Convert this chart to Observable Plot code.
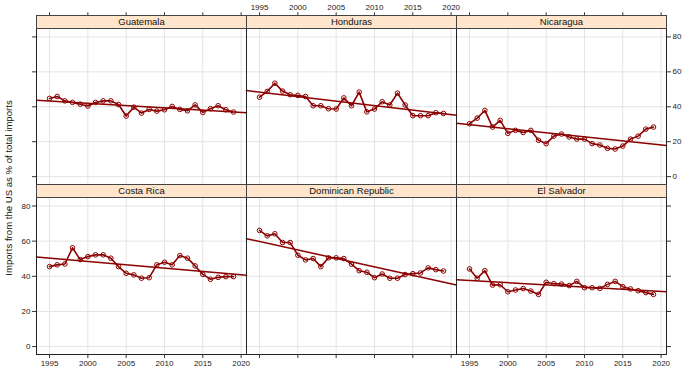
<!DOCTYPE html>
<html>
<head>
<meta charset="utf-8">
<script src="https://cdn.jsdelivr.net/npm/d3@7"></script>
<script src="https://cdn.jsdelivr.net/npm/@observablehq/plot@0.6"></script>
<style>
  html, body { margin: 0; padding: 0; background: white; }
  #fig { position: relative; width: 685px; height: 371px; font-family: "Liberation Sans", Arial, sans-serif; overflow: hidden; }
  #fig svg { position: absolute; left: 0; top: 0; }
  .strip { position: absolute; box-sizing: border-box; background: #ffe5cc; border: 1px solid #444; font-size: 9.5px; text-align: center; color: #111; z-index: 5; }
  .ytitle { position: absolute; font-size: 9.6px; color: #111; white-space: nowrap; transform: translate(-50%, -50%) rotate(-90deg); z-index: 6; }
</style>
</head>
<body>
<div id="fig"></div>
<script>
const years = [1995,1996,1997,1998,1999,2000,2001,2002,2003,2004,2005,2006,2007,2008,2009,2010,2011,2012,2013,2014,2015,2016,2017,2018,2019];
const xTicks = [1995,2000,2005,2010,2015,2020];
const yTicks = [0,20,40,60,80];
const countries = ["Guatemala","Honduras","Nicaragua","Costa Rica","Dominican Republic","El Salvador"];

const guatemala = [44.8,45.9,43.4,42.5,41.5,40.4,42.5,43.4,43.4,41.3,34.7,39.8,36.4,38.5,37.5,38.3,40.2,38.5,37.7,41.1,36.8,38.9,40.6,38.3,37.0];
const honduras  = [45.5,48.8,53.5,49.0,46.9,46.5,45.9,40.6,40.6,38.9,38.7,45.1,40.6,48.4,37.1,38.7,42.9,41.0,47.8,41.0,34.9,34.9,34.9,36.6,36.2];
const nicaragua = [30.3,33.5,37.9,28.4,32.2,24.8,26.5,25.3,26.5,20.8,18.9,23.2,24.4,22.7,21.5,21.5,18.9,18.1,16.2,15.8,17.5,21.5,23.2,27.2,28.4];
const costaRica = [45.5,46.5,47.0,56.2,49.5,51.2,52.2,52.2,50.3,45.5,41.7,40.8,38.9,39.2,46.5,48.0,46.5,51.8,50.3,45.9,41.1,38.3,39.4,39.8,39.8];
const dominican = [66.1,63.0,64.2,59.2,59.2,52.0,49.3,50.1,45.5,50.5,50.5,50.1,46.9,43.2,42.3,39.2,41.3,38.9,38.9,41.0,41.5,41.9,44.8,43.8,43.0];
const elSalvador= [44.2,38.9,43.2,35.0,35.2,31.2,32.2,33.0,31.6,29.7,36.6,35.8,35.6,34.7,37.1,33.5,33.5,33.1,35.4,37.1,34.1,32.8,31.8,30.7,29.7];
const series = [guatemala, honduras, nicaragua, costaRica, dominican, elSalvador];

const W = 685, H = 371;
const xDomain = [1993.3, 2020.7];
const yDomain = [-4.5, 85];
const colLeft = [36, 246, 456];
const panelW = 210;
const rows = [
  {stripTop: 15.3, panelTop: 27.7, panelBottom: 184},
  {stripTop: 184, panelTop: 196.7, panelBottom: 354}
];
const red = "#8B0000";
const fig = document.getElementById("fig");
const blank = () => "";
const numFmt = d => String(d);

// axis configuration (lattice alternating pattern): null = no axis, true = ticks+labels, false = ticks only
const axesFor = [
  {xT: false, yL: false, yR: null,  xB: null},   // Guatemala
  {xT: true,  yL: null,  yR: null,  xB: null},   // Honduras
  {xT: false, yL: null,  yR: true,  xB: null},   // Nicaragua
  {xT: null,  yL: true,  yR: null,  xB: true},   // Costa Rica
  {xT: null,  yL: null,  yR: null,  xB: false},  // Dominican Republic
  {xT: null,  yL: null,  yR: false, xB: true}    // El Salvador
];

countries.forEach((name, i) => {
  const row = Math.floor(i / 3), col = i % 3;
  const g = rows[row];
  const vals = series[i];
  const data = years.map((y, k) => ({year: y, value: vals[k]}));
  const mx = d3.mean(years), my = d3.mean(vals);
  const slope = d3.sum(years, (x, k) => (x - mx) * (vals[k] - my)) / d3.sum(years, x => (x - mx) ** 2);
  const icpt = my - slope * mx;
  const reg = xDomain.map(x => ({year: x, value: icpt + slope * x}));
  const left = colLeft[col];
  const frameTop = row === 0 ? g.stripTop : g.panelTop;
  const ax = axesFor[i];
  const marks = [
    Plot.gridX(xTicks, {stroke: "#e4e4e4", strokeOpacity: 1}),
    Plot.gridY(yTicks, {stroke: "#e4e4e4", strokeOpacity: 1}),
    Plot.line(reg, {x: "year", y: "value", stroke: red, strokeWidth: 1.5}),
    Plot.line(data, {x: "year", y: "value", stroke: red, strokeWidth: 1.6}),
    Plot.dot(data, {x: "year", y: "value", r: 2.3, stroke: red, strokeWidth: 1, fill: "none"}),
    Plot.frame({stroke: "#222"})
  ];
  const common = {tickSize: 4, tickPadding: 2, stroke: "#333"};
  if (ax.xT !== null) marks.push(Plot.axisX(xTicks, {...common, anchor: "top", tickFormat: ax.xT ? numFmt : blank}));
  if (ax.xB !== null) marks.push(Plot.axisX(xTicks, {...common, anchor: "bottom", tickFormat: ax.xB ? numFmt : blank}));
  if (ax.yL !== null) marks.push(Plot.axisY(yTicks, {...common, anchor: "left", tickFormat: ax.yL ? numFmt : blank}));
  if (ax.yR !== null) marks.push(Plot.axisY(yTicks, {...common, anchor: "right", tickFormat: ax.yR ? numFmt : blank}));

  const svg = Plot.plot({
    width: W, height: H,
    marginLeft: left, marginRight: W - left - panelW,
    marginTop: frameTop, marginBottom: H - g.panelBottom,
    x: {domain: xDomain, label: null, axis: null},
    y: {domain: yDomain, range: [g.panelBottom, g.panelTop], label: null, axis: null},
    style: {background: "transparent", overflow: "visible", fontSize: "8px", fontFamily: "'Liberation Sans', Arial, sans-serif", color: "#222"},
    marks
  });
  fig.appendChild(svg);

  const strip = document.createElement("div");
  strip.className = "strip";
  strip.textContent = name;
  strip.style.left = left + "px";
  strip.style.top = g.stripTop + "px";
  strip.style.width = (panelW + 1) + "px";
  strip.style.height = (g.panelTop - g.stripTop + 1) + "px";
  strip.style.lineHeight = (g.panelTop - g.stripTop - 1) + "px";
  fig.appendChild(strip);
});

const title = document.createElement("div");
title.className = "ytitle";
title.textContent = "Imports from the US as % of total imports";
title.style.left = "8px";
title.style.top = "188px";
fig.appendChild(title);
</script>
</body>
</html>
